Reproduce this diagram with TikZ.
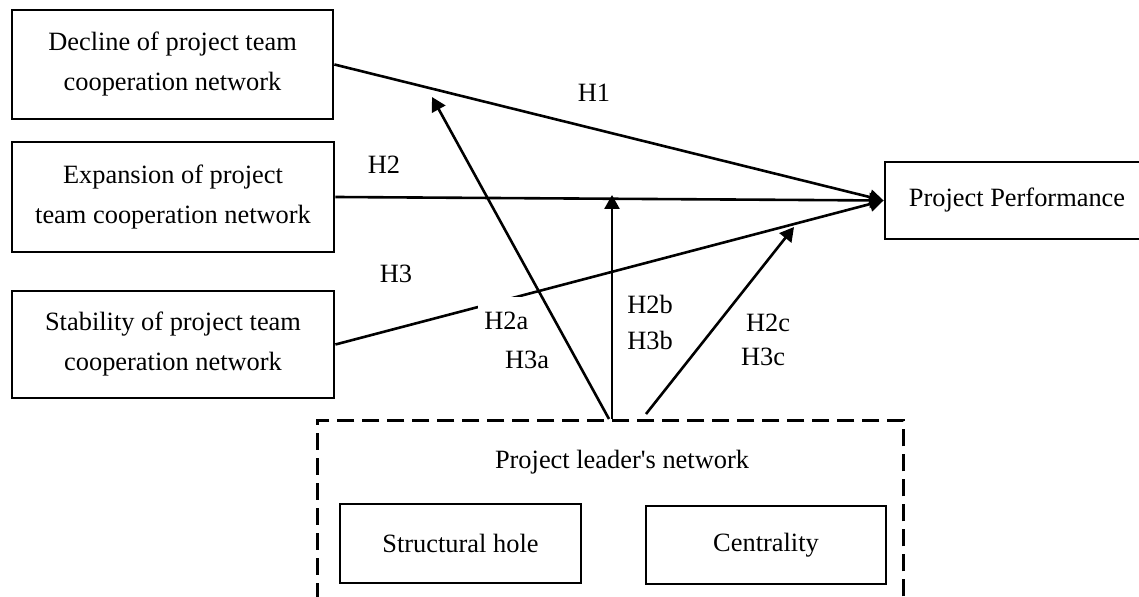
\documentclass[tikz,border=0pt]{standalone}
\usepackage{fontspec}
\setmainfont{Liberation Serif}
\usetikzlibrary{arrows.meta}
\begin{document}
\begin{tikzpicture}[x=0.5pt,y=-0.5pt,
  every node/.style={font=\fontsize{13.2}{20}\selectfont},
  box/.style={draw, line width=1.4pt, align=center, inner sep=0pt},
  framebox/.style={draw, line width=1.4pt, dash pattern=on 8.5pt off 4pt, inner sep=0pt},
  arr/.style={line width=1.3pt, -{Triangle[length=7pt,width=7.5pt]}},
  hyp/.style={inner sep=0pt}]
\clip (0,0) rectangle (1139,597);
\fill[white] (0,0) rectangle (1139,597);

% independent variables
\node[box, minimum width=160.5pt, minimum height=54.5pt] (dec) at (172.5,64.5)
  {Decline of project team\\cooperation network};
\node[box, minimum width=161pt, minimum height=55pt] (exp) at (173,197)
  {Expansion of project\\team cooperation network};
\node[box, minimum width=161pt, minimum height=53.5pt] (stab) at (173,344.5)
  {Stability of project team\\cooperation network};

% dependent variable
\node[box, minimum width=132pt, minimum height=38.5pt] (pp) at (1017,200.5)
  {Project Performance};

% moderator group
\node[framebox, anchor=north west, minimum width=293pt, minimum height=120pt] (leader) at (316,419) {};
\node (leadtitle) at (622,462) {Project leader\textquotesingle s network};
\node[box, minimum width=120.5pt, minimum height=39.5pt] (sh) at (460.5,543.5) {Structural hole};
\node[box, minimum width=120pt, minimum height=39pt] (cen) at (766,545) {Centrality};

% main effects
\draw[arr] (dec.east) -- (pp.west);
\draw[arr] (exp.east) -- (pp.west);
\draw[arr] (stab.east) -- (pp.west);

% moderating effects
\coordinate (ma0) at (609,419);
\coordinate (ma1) at (432,97);
\coordinate (mb0) at (612,419);
\coordinate (mb1) at (612,195);
\coordinate (mc0) at (646,414);
\coordinate (mc1) at (794,227);
\draw[arr] (ma0) -- (ma1);
\draw[arr] (mb0) -- (mb1);
\draw[arr] (mc0) -- (mc1);

% hypothesis labels
\node[hyp] (h1) at (594,93) {H1};
\node[hyp] (h2) at (384,165) {H2};
\node[hyp] (h3) at (396,274) {H3};
\node[fill=white, anchor=north west, inner xsep=3pt, inner ysep=7.5pt] (h2a) at (478,297) {H2a};
\node[hyp] (h3a) at (527,360) {H3a};
\node[hyp] (h2b) at (650,304) {H2b};
\node[hyp] (h3b) at (650,340) {H3b};
\node[hyp] (h2c) at (768,323) {H2c};
\node[hyp] (h3c) at (763,357) {H3c};
\end{tikzpicture}
\end{document}
